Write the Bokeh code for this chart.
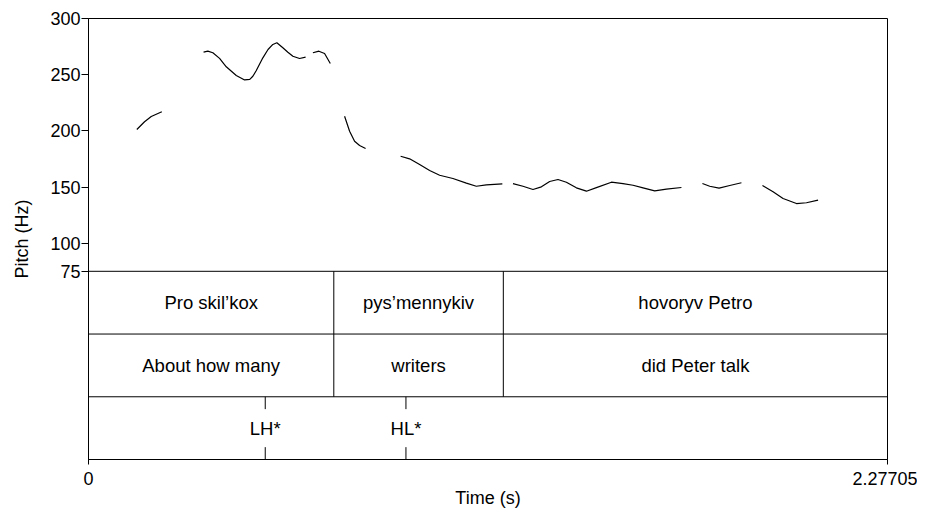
from bokeh.plotting import figure
from bokeh.models import FixedTicker, NumeralTickFormatter, Range1d
from bokeh.embed import file_html
from bokeh.resources import INLINE
from bokeh.core.properties import value

# ---------------- data ----------------
t_end = 2.27705
y_ticks = [75, 100, 150, 200, 250, 300]

pitch_times = [
    [0.1377, 0.1597, 0.1788, 0.2090],
    [0.3279, 0.3401, 0.3544, 0.3735, 0.3926, 0.4211, 0.4449, 0.4596, 0.4684, 0.4778,
     0.4969, 0.5116, 0.5254, 0.5368, 0.5539, 0.5682, 0.5825, 0.6015, 0.6187],
    [0.6395, 0.6566, 0.6728, 0.6891],
    [0.7298, 0.7441, 0.7583, 0.7726, 0.7897],
    [0.8895, 0.9151, 0.9437, 0.9722, 1.0007, 1.0386, 1.0768, 1.1053, 1.1338, 1.1794],
    [1.2097, 1.2382, 1.2667, 1.2907, 1.3143, 1.3380, 1.3619, 1.3904, 1.4190, 1.4475,
     1.4902, 1.5233, 1.5518, 1.5803, 1.6137, 1.6470, 1.6898],
    [1.7496, 1.7704, 1.7970, 1.8275, 1.8608],
    [1.9207, 1.9509, 1.9794, 2.0176, 2.0461, 2.0792],
]
pitch_hz = [
    [201.2, 208.1, 212.8, 217.0],
    [270.0, 270.9, 269.5, 264.5, 257.0, 249.3, 245.3, 245.8, 248.6, 253.5,
     265.0, 272.4, 276.9, 278.4, 273.9, 270.0, 266.4, 264.4, 265.6],
    [269.5, 270.9, 268.8, 260.0],
    [213.0, 199.7, 190.8, 187.0, 184.3],
    [177.4, 175.1, 170.0, 164.7, 160.5, 157.6, 153.5, 150.7, 152.0, 152.9],
    [153.1, 150.7, 147.8, 150.2, 154.9, 156.7, 154.3, 149.3, 146.3, 149.5,
     154.3, 153.1, 151.6, 149.3, 146.6, 148.1, 149.6],
    [153.1, 150.7, 149.0, 151.4, 153.8],
    [151.4, 145.8, 139.8, 135.3, 136.0, 138.3],
]

word_bounds = [0.0, 0.6991, 1.1822, 2.27705]
words_uk = ["Pro skil\u2019kox", "pys\u2019mennykiv", "hovoryv Petro"]
words_en = ["About how many", "writers", "did Peter talk"]
tone_times = [0.5037, 0.9047]
tone_labels = ["LH*", "HL*"]

# ---------------- layout ----------------
FONT = "Liberation Sans"
y_bottom = -92.5            # bottom of the tier area (in the pitch axis units)
tier_top = y_ticks[0]
tier_h = (tier_top - y_bottom) / 3.0
tier_tops = [tier_top - i * tier_h for i in range(3)]
tier_mids = [t - tier_h / 2 for t in tier_tops]

p = figure(frame_width=799, frame_height=441,
           x_range=Range1d(0, t_end), y_range=Range1d(y_bottom, 300),
           output_backend="svg", toolbar_location=None,
           min_border_left=88, min_border_right=30, min_border_top=18, min_border_bottom=40)
p.xgrid.visible = False
p.ygrid.visible = False
p.outline_line_color = "black"
p.outline_line_width = 1
p.background_fill_color = "white"
p.border_fill_color = "white"

for ax in (p.xaxis[0], p.yaxis[0]):
    ax.axis_line_color = "black"
    ax.axis_line_width = 1
    ax.major_tick_line_color = "black"
    ax.major_tick_in = 0
    ax.minor_tick_line_color = None
    ax.major_label_text_font = FONT
    ax.major_label_text_font_size = "18px"
    ax.major_label_text_color = "black"
    ax.axis_label_text_font = FONT
    ax.axis_label_text_font_size = "18px"
    ax.axis_label_text_font_style = "normal"
    ax.axis_label_text_color = "black"

p.xaxis.ticker = FixedTicker(ticks=[0, t_end])
p.xaxis.formatter = NumeralTickFormatter(format="0.[00000]")
p.xaxis.major_tick_out = 5
p.xaxis.major_label_standoff = 7
p.xaxis.axis_label = "Time (s)"
p.xaxis.axis_label_standoff = 0

p.yaxis.ticker = FixedTicker(ticks=y_ticks)
p.yaxis.major_tick_out = 7
p.yaxis.major_label_standoff = 1
p.yaxis.axis_label = "Pitch (Hz)"
p.yaxis.axis_label_standoff = 15

# pitch contour
p.multi_line(xs=pitch_times, ys=pitch_hz, line_color="black", line_width=1.2)

# tier horizontal lines
p.segment(x0=[0] * 3, x1=[t_end] * 3, y0=tier_tops, y1=tier_tops,
          line_color="black", line_width=1)

# interval boundaries (tiers 1 and 2)
inner = word_bounds[1:-1]
p.segment(x0=inner, x1=inner, y0=[tier_tops[0]] * len(inner), y1=[tier_tops[2]] * len(inner),
          line_color="black", line_width=1)

# interval labels
mids = [(a + b) / 2 for a, b in zip(word_bounds[:-1], word_bounds[1:])]
for labels, ymid in ((words_uk, tier_mids[0]), (words_en, tier_mids[1])):
    p.text(x=mids, y=[ymid] * len(mids), text=labels, text_align="center",
           text_baseline="middle", text_font=value(FONT), text_font_size="18.5px",
           text_color="black")

# point tier
mark = 11.0
p.segment(x0=tone_times, x1=tone_times, y0=[tier_tops[2]] * 2, y1=[tier_tops[2] - mark] * 2,
          line_color="black", line_width=1)
p.segment(x0=tone_times, x1=tone_times, y0=[y_bottom] * 2, y1=[y_bottom + mark] * 2,
          line_color="black", line_width=1)
p.text(x=tone_times, y=[tier_mids[2]] * 2, text=tone_labels, text_align="center",
       text_baseline="middle", text_font=value(FONT), text_font_size="18.5px",
       text_color="black")

open("out.html", "w").write(file_html(p, INLINE))
